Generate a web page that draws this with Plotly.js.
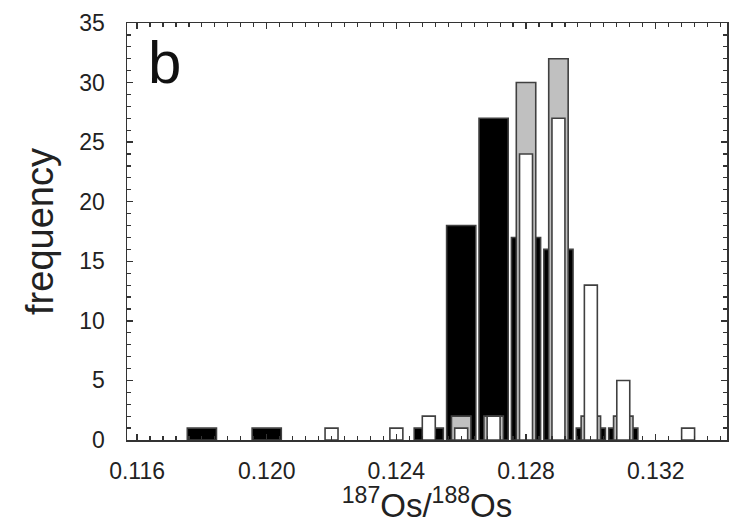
<!DOCTYPE html>
<html><head><meta charset="utf-8">
<script src="https://cdn.plot.ly/plotly-3.0.1.min.js"></script>
<style>html,body{margin:0;padding:0;background:#fff}</style>
</head><body><div id="chart" style="width:734px;height:524px"></div>
<script>
// 187Os/188Os bin centres and frequencies
const blackX = [0.118, 0.120, 0.125, 0.126, 0.127, 0.128, 0.129, 0.130, 0.131];
const blackY = [1, 1, 1, 18, 27, 17, 16, 1, 1];
const grayX = [0.126, 0.127, 0.128, 0.129, 0.130, 0.131];
const grayY = [2, 2, 30, 32, 2, 2];
const whiteX = [0.122, 0.124, 0.125, 0.126, 0.127, 0.128, 0.129, 0.130, 0.131, 0.133];
const whiteY = [1, 1, 2, 1, 2, 24, 27, 13, 5, 1];
const xTickVals = [0.116, 0.120, 0.124, 0.128, 0.132];
const xTickText = ['0.116', '0.120', '0.124', '0.128', '0.132'];
const yTickVals = [0, 5, 10, 15, 20, 25, 30, 35];

const outline = '#404040';
const traces = [
  {type: 'bar', x: blackX, y: blackY, width: 0.00090, name: 'black',
   marker: {color: '#000000', line: {color: outline, width: 1.6}}},
  {type: 'bar', x: grayX, y: grayY, width: 0.00060, name: 'gray',
   marker: {color: '#c0c0c0', line: {color: outline, width: 1.6}}},
  {type: 'bar', x: whiteX, y: whiteY, width: 0.00040, name: 'white',
   marker: {color: '#ffffff', line: {color: outline, width: 1.6}}}
];

const font = {family: 'Liberation Sans, Arial, sans-serif', color: '#222'};
const layout = {
  width: 734, height: 524,
  margin: {l: 127, r: 7, t: 23, b: 84},
  paper_bgcolor: '#fff', plot_bgcolor: '#fff',
  barmode: 'overlay', showlegend: false,
  font: font,
  xaxis: {
    range: [0.11569, 0.1342], tickmode: 'array', tickvals: xTickVals, ticktext: xTickText,
    ticks: 'inside', ticklen: 6, tickwidth: 1.3, tickcolor: '#333',
    showline: true, linecolor: '#333', linewidth: 1.5, mirror: 'ticks',
    showgrid: false, zeroline: false,
    tickfont: {size: 23, color: '#222'}, ticklabelstandoff: 10,
    minor: {tickmode: 'linear', tick0: 0.116, dtick: 0.0004, ticks: 'inside', ticklen: 4, tickwidth: 1.2, tickcolor: '#333', showgrid: false},
    title: {text: '<sup>187</sup>Os/<sup>188</sup>Os', font: {size: 33, color: '#222'}, standoff: 10}
  },
  yaxis: {
    range: [0, 35], tickmode: 'array', tickvals: yTickVals,
    ticks: 'inside', ticklen: 6, tickwidth: 1.3, tickcolor: '#333',
    showline: true, linecolor: '#333', linewidth: 1.5, mirror: 'ticks',
    showgrid: false, zeroline: false,
    tickfont: {size: 23, color: '#222'}, ticklabelstandoff: 16,
    minor: {tickmode: 'linear', tick0: 0, dtick: 1, ticks: 'inside', ticklen: 4, tickwidth: 1.2, tickcolor: '#333', showgrid: false},
    title: {text: 'frequency', font: {size: 38, color: '#222'}, standoff: 14}
  },
  annotations: [
    {text: 'b', xref: 'paper', yref: 'paper', x: 0.063, y: 0.905, xanchor: 'center', yanchor: 'middle',
     showarrow: false, font: {size: 60, color: '#111'}}
  ]
};
Plotly.newPlot('chart', traces, layout, {displayModeBar: false, staticPlot: true});
</script>
</body></html>
